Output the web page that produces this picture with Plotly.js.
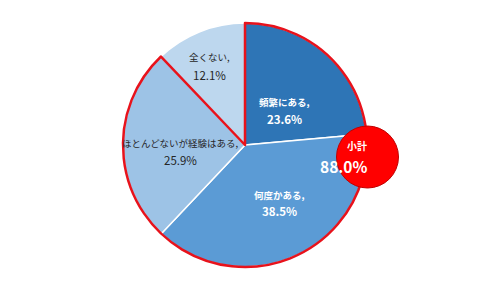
<!DOCTYPE html>
<html><head><meta charset="utf-8">
<script src="https://cdn.plot.ly/plotly-3.0.1.min.js"></script>
<style>html,body{margin:0;padding:0;background:#fff}#c{width:490px;height:294px}</style>
</head><body><div id="c"></div>
<script>
const categories = ['頻繁にある', '何度かある', 'ほとんどないが経験はある', '全くない'];
const values = [23.6, 38.5, 25.9, 12.1];
const colors = ['#2E75B6', '#5B9BD5', '#9DC3E6', '#BDD7EE'];
const labelColors = ['#ffffff', '#ffffff', '#262626', '#262626'];
const labelRadius = [0.43, 0.62, 0.53, 0.78];
const labelAngleShift = [7, -1.5, -6, 0];
const subtotalLabel = '小計';
const subtotalValue = 88.0;

const W = 490, H = 294;
const dom = {x: [0, 1], y: [27/294, 271/294]};
const cx = W * (dom.x[0] + dom.x[1]) / 2;
const cy = H * (1 - (dom.y[0] + dom.y[1]) / 2);
const R = H * (dom.y[1] - dom.y[0]) / 2;
const font = '"Noto Sans CJK JP", "Noto Sans", sans-serif';

const base = {
  type: 'pie', values: values, labels: categories, sort: false, direction: 'clockwise', rotation: 0,
  marker: {colors: colors, line: {color: '#ffffff', width: 1.5}},
  textinfo: 'none', hoverinfo: 'none', domain: dom, showlegend: false
};
const grp = [values.slice(0, 3).reduce((a, b) => a + b, 0), values[3]];
const outline = {
  type: 'pie', values: grp, labels: ['a', 'b'], sort: false, direction: 'clockwise', rotation: 0,
  marker: {colors: ['rgba(0,0,0,0)', 'rgba(0,0,0,0)'], line: {color: ['#E8121B', 'rgba(0,0,0,0)'], width: [2.5, 0]}},
  textinfo: 'none', hoverinfo: 'none', domain: dom, showlegend: false
};

const total = values.reduce((a, b) => a + b, 0);
const annotations = [];
let cum = 0;
values.forEach((v, i) => {
  const mid = ((cum + v / 2) / total * 360 + labelAngleShift[i]) * Math.PI / 180;
  cum += v;
  const px = cx + R * labelRadius[i] * Math.sin(mid);
  const py = cy - R * labelRadius[i] * Math.cos(mid);
  const w = i < 2 ? 'bold' : 'normal';
  annotations.push({
    x: px / W, y: 1 - (py - 8.5) / H, xref: 'paper', yref: 'paper', showarrow: false,
    text: categories[i] + ',', font: {family: font, size: 9.5, color: labelColors[i], weight: w}
  });
  annotations.push({
    x: px / W, y: 1 - (py + 8.5) / H, xref: 'paper', yref: 'paper', showarrow: false,
    text: v.toFixed(1) + '%', font: {family: font, size: 11.5, color: labelColors[i], weight: w}
  });
});
const bx = 367.5, by = 157, br = 31;
annotations.push({
  x: bx / W, y: 1 - (by - 3) / H, xref: 'paper', yref: 'paper', showarrow: false,
  yanchor: 'bottom', borderpad: 0,
  text: '<b>' + subtotalLabel + '</b>', font: {family: font, size: 10, color: '#ffffff'}
});
annotations.push({
  x: bx / W, y: 1 - (by - 3) / H, xref: 'paper', yref: 'paper', showarrow: false,
  yanchor: 'top', borderpad: 0,
  text: '<b>' + subtotalValue.toFixed(1) + '%</b>', font: {family: font, size: 15.5, color: '#ffffff'}
});

const layout = {
  width: W, height: H, margin: {l: 0, r: 0, t: 0, b: 0},
  paper_bgcolor: '#ffffff', plot_bgcolor: '#ffffff', showlegend: false,
  shapes: [{type: 'circle', xref: 'paper', yref: 'paper',
    x0: (bx - br) / W, x1: (bx + br) / W, y0: 1 - (by + br) / H, y1: 1 - (by - br) / H,
    fillcolor: '#FF0000', line: {color: '#C00000', width: 1}}],
  annotations: annotations
};
Plotly.newPlot('c', [base, outline], layout, {staticPlot: true, displayModeBar: false});
</script></body></html>
